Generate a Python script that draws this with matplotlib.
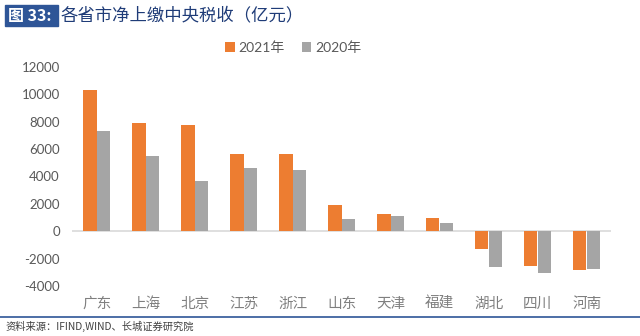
import numpy as np
import matplotlib.pyplot as plt
from matplotlib.patches import Rectangle

plt.rcParams['font.family'] = ['Noto Sans CJK SC', 'DejaVu Sans']

provinces = ['广东', '上海', '北京', '江苏', '浙江', '山东', '天津', '福建', '湖北', '四川', '河南']
y2021 = [10280, 7900, 7760, 5650, 5650, 1890, 1240, 950, -1270, -2540, -2810]
y2020 = [7340, 5500, 3640, 4630, 4440, 920, 1090, 580, -2640, -3030, -2790]
yticks = [-4000, -2000, 0, 2000, 4000, 6000, 8000, 10000, 12000]

orange = '#ED7D31'
grey = '#A5A5A5'
txt = '#595959'

fig = plt.figure(figsize=(6.4, 3.36), dpi=100)
ax = fig.add_axes([0.113, 0.149, 0.842, 0.652])

x = np.arange(len(provinces))
w = 0.27
ax.bar(x - 0.14, y2021, w, color=orange, label='2021年', zorder=2)
ax.bar(x + 0.14, y2020, w, color=grey, label='2020年', zorder=2)
ax.axhline(0, color='#D9D9D9', lw=1.2, zorder=1)

ax.set_xlim(-0.5, len(provinces) - 0.5)
ax.set_ylim(-4000, 12000)
ax.set_yticks(yticks)
ax.set_yticklabels([str(v) for v in yticks], family=['Lato', 'DejaVu Sans'], fontsize=9.5, color=txt)
ax.set_xticks(x)
ax.set_xticklabels(provinces, fontsize=10.5, color='#7F7F7F')
ax.tick_params(axis='both', length=0)
ax.tick_params(axis='x', pad=8)
ax.tick_params(axis='y', pad=9)
for s in ax.spines.values():
    s.set_visible(False)

leg = ax.legend(loc='center', bbox_to_anchor=(0.41, 1.087), ncol=2, frameon=False,
                handlelength=0.7, handleheight=0.7, handletextpad=0.3, columnspacing=1.2,
                prop={'family': ['Lato', 'Noto Sans CJK SC'], 'size': 10})
for t in leg.get_texts():
    t.set_color(txt)

# title bar
fig.patches.append(Rectangle((5 / 640, 1 - 26 / 336), 53 / 640, 21 / 336,
                             transform=fig.transFigure, color='#2E5597', zorder=0))
fig.text(8 / 640, 1 - 15.5 / 336, '图 33:', color='white', fontsize=11.5, fontweight='bold',
         va='center', ha='left')
fig.text(61 / 640, 1 - 15.5 / 336, '各省市净上缴中央税收（亿元）', color='#1F3C78', fontsize=12.5,
         fontweight='medium', va='center', ha='left')

# source line
fig.add_artist(plt.Line2D([0, 1], [1 - 316.5 / 336] * 2, transform=fig.transFigure,
                          color='#2E5597', lw=1.2))
fig.text(6 / 640, 1 - 326 / 336, '资料来源：IFIND,WIND、长城证券研究院', color='#404040',
         fontsize=7.4, style='italic', va='center', ha='left')

fig.savefig('out.png', dpi=100)
